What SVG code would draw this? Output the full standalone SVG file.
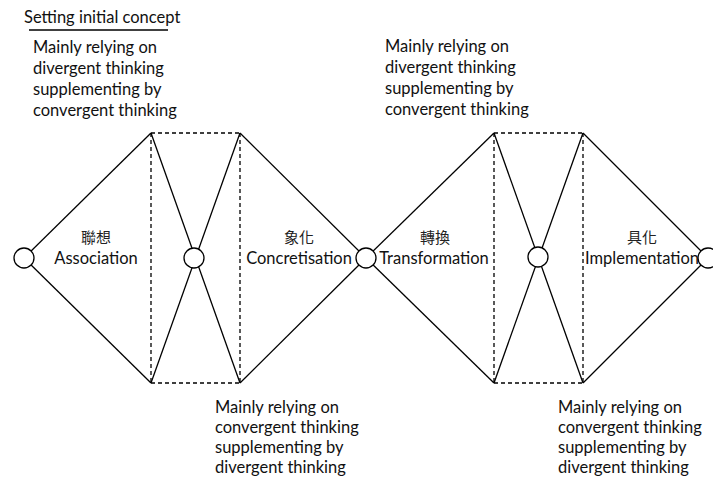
<svg xmlns="http://www.w3.org/2000/svg" width="713" height="481" viewBox="0 0 713 481">
<style>
.ln{stroke:#000;stroke-width:1.3;fill:none}
.ds{stroke:#000;stroke-width:1.3;fill:none;stroke-dasharray:4 3}
.nd{stroke:#000;stroke-width:1.3;fill:#fff}
.t{font-family:Lato,"Liberation Sans",sans-serif;font-size:16.5px;fill:#111}
.c{font-family:"Noto Sans CJK TC",sans-serif;font-size:15px;fill:#222}
.m{text-anchor:middle}
</style>
<rect width="713" height="481" fill="#fff"/>
<g id="connectors">
<line class="ln" x1="24" y1="258" x2="151" y2="133"/>
<line class="ln" x1="24" y1="258" x2="151" y2="383"/>
<line class="ln" x1="151" y1="133" x2="240" y2="383"/>
<line class="ln" x1="240" y1="133" x2="151" y2="383"/>
<line class="ln" x1="240" y1="133" x2="366" y2="258"/>
<line class="ln" x1="240" y1="383" x2="366" y2="258"/>
<line class="ln" x1="366" y1="258" x2="494" y2="133"/>
<line class="ln" x1="366" y1="258" x2="494" y2="383"/>
<line class="ln" x1="494" y1="133" x2="583" y2="383"/>
<line class="ln" x1="583" y1="133" x2="494" y2="383"/>
<line class="ln" x1="583" y1="133" x2="708" y2="258"/>
<line class="ln" x1="583" y1="383" x2="708" y2="258"/>
<path class="ds" d="M151 133H240M151 383H240M151 133V383M240 133V383"/>
<path class="ds" d="M494 133H583M494 383H583M494 133V383M583 133V383"/>
</g>
<g id="n-start"><circle class="nd" cx="24" cy="258" r="10"/></g>
<g id="n-mid1"><circle class="nd" cx="194" cy="258" r="10"/></g>
<g id="n-center"><circle class="nd" cx="366" cy="258" r="10"/></g>
<g id="n-mid2"><circle class="nd" cx="538" cy="257" r="10"/></g>
<g id="n-end"><circle class="nd" cx="708" cy="258" r="10"/></g>
<g id="association">
<text class="c m" x="96" y="243">聯想</text>
<text class="t m" x="96" y="264">Association</text>
</g>
<g id="concretisation">
<text class="c m" x="299" y="243">象化</text>
<text class="t m" x="299" y="264">Concretisation</text>
</g>
<g id="transformation">
<text class="c m" x="435" y="243">轉換</text>
<text class="t m" x="434" y="264">Transformation</text>
</g>
<g id="implementation">
<text class="c m" x="642" y="243">具化</text>
<text class="t m" x="642" y="264">Implementation</text>
</g>
<g id="title">
<text class="t" x="24" y="23">Setting initial concept</text>
<line class="ln" x1="29" y1="30" x2="168" y2="30"/>
</g>
<g id="note-top-left">
<text class="t" x="33" y="53">Mainly relying on</text>
<text class="t" x="33" y="74">divergent thinking</text>
<text class="t" x="33" y="95">supplementing by</text>
<text class="t" x="33" y="116">convergent thinking</text>
</g>
<g id="note-top-right">
<text class="t" x="385" y="52">Mainly relying on</text>
<text class="t" x="385" y="73">divergent thinking</text>
<text class="t" x="385" y="94">supplementing by</text>
<text class="t" x="385" y="115">convergent thinking</text>
</g>
<g id="note-bottom-mid">
<text class="t" x="215" y="413">Mainly relying on</text>
<text class="t" x="215" y="433">convergent thinking</text>
<text class="t" x="215" y="453">supplementing by</text>
<text class="t" x="215" y="473">divergent thinking</text>
</g>
<g id="note-bottom-right">
<text class="t" x="558" y="413">Mainly relying on</text>
<text class="t" x="558" y="433">convergent thinking</text>
<text class="t" x="558" y="453">supplementing by</text>
<text class="t" x="558" y="473">divergent thinking</text>
</g>
</svg>
